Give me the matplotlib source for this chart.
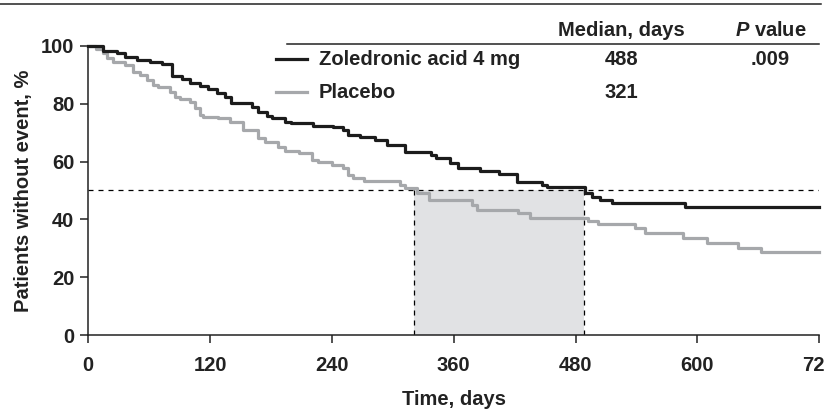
import numpy as np
import matplotlib
matplotlib.use("Agg")
import matplotlib.pyplot as plt
from matplotlib.lines import Line2D

# Kaplan-Meier step points (day of change, % without event after change)
zol_days = [0, 14, 28, 36, 48, 61, 73, 82, 92, 100, 110, 118, 127, 135, 141,
            161, 167, 176, 181, 194, 200, 221, 241, 251, 256, 268, 282, 294,
            312, 338, 342, 356, 364, 386, 405, 422, 447, 452, 489, 496, 504,
            516, 588, 720]
zol_pct = [100, 98.3, 97.4, 96.2, 95.0, 94.3, 93.6, 89.6, 88.4, 87.2, 86.0,
           85.0, 83.6, 82.4, 80.3, 79.0, 77.2, 75.7, 74.9, 73.8, 73.2, 72.3,
           72.0, 70.9, 69.2, 68.6, 67.6, 65.7, 63.4, 62.3, 61.1, 59.5, 57.7,
           56.8, 55.7, 53.0, 51.9, 51.1, 49.0, 47.9, 46.7, 45.6, 44.2, 44.2]

pla_days = [0, 8, 14, 18, 24, 36, 44, 51, 58, 64, 69, 80, 85, 90, 100, 105,
            110, 113, 128, 140, 152, 167, 174, 187, 194, 208, 220, 226, 240,
            251, 256, 261, 272, 307, 312, 324, 336, 378, 383, 423, 435, 492,
            502, 538, 548, 586, 609, 640, 663, 720]
pla_pct = [100, 98.7, 97.4, 95.6, 94.5, 93.3, 91.0, 89.9, 88.2, 86.4, 85.6,
           84.1, 82.4, 81.5, 80.7, 78.4, 76.1, 75.5, 74.9, 73.8, 70.9, 68.0,
           66.9, 65.1, 63.7, 62.8, 60.5, 59.9, 58.8, 57.7, 55.4, 54.2, 53.4,
           51.9, 50.8, 49.0, 46.7, 45.0, 43.3, 42.1, 40.6, 39.5, 38.4, 36.9,
           35.4, 33.5, 31.8, 30.0, 28.9, 28.9]

groups = ["Zoledronic acid 4 mg", "Placebo"]
medians = [488, 321]
p_values = [".009", ""]
x_ticks = [0, 120, 240, 360, 480, 600, 720]
y_ticks = [0, 20, 40, 60, 80, 100]

plt.rcParams["font.family"] = ["Liberation Sans", "DejaVu Sans"]
plt.rcParams["font.weight"] = "bold"
plt.rcParams["mathtext.fontset"] = "custom"
plt.rcParams["mathtext.bfit"] = "Liberation Sans:italic:bold"

BLACK = "#1c1c1c"
GRAY = "#a6a8ab"
SHADE = "#e1e2e4"
INK = "#222222"
FS = 14.5

fig = plt.figure(figsize=(8.25, 4.09), dpi=100)
ax = fig.add_axes([88.3 / 825, 73.7 / 409, 731 / 825, 289.6 / 409])

# shaded median window and reference lines
ax.axvspan(medians[1], medians[0], ymin=0, ymax=0.5, color=SHADE, lw=0, zorder=1)
ax.axhline(50, color="black", lw=0.9, ls=(0, (4, 4)), zorder=2)
for m in medians:
    ax.plot([m, m], [0, 50], color="black", lw=0.9, ls=(0, (4, 4)), zorder=2)

ax.step(pla_days, pla_pct, where="post", color=GRAY, lw=2.3, zorder=3,
        clip_on=False)
ax.step(zol_days, zol_pct, where="post", color=BLACK, lw=2.3, zorder=4,
        clip_on=False)

ax.set_xlim(0, 720)
ax.set_ylim(0, 100)
ax.set_xticks(x_ticks)
ax.set_yticks(y_ticks)
ax.tick_params(axis="both", length=6, width=1.1, labelsize=FS, color=INK,
               labelcolor=INK)
ax.tick_params(axis="x", pad=9)
ax.tick_params(axis="y", pad=4)
for s in ["top", "right"]:
    ax.spines[s].set_visible(False)
for s in ["left", "bottom"]:
    ax.spines[s].set_linewidth(1.1)
    ax.spines[s].set_color(INK)

ax.set_xlabel("Time, days", fontsize=FS, fontweight="bold", labelpad=11,
              color=INK)
ax.set_ylabel("Patients without event, %", fontsize=FS, fontweight="bold",
              labelpad=6, color=INK)

# legend table
col_med = 525
col_p = 672
hy = 105.4
ax.text(col_med, hy, "Median, days", ha="center", va="center",
        fontsize=FS, fontweight="bold", clip_on=False, color=INK)
ax.text(col_p, hy, r"$\mathbfit{P}$ value", ha="center", va="center",
        fontsize=FS, fontweight="bold", clip_on=False, color=INK)
ax.plot([196, 720], [100.6, 100.6], color=INK, lw=1.1, clip_on=False)

row_y = [95.4, 84.0]
colors = [BLACK, GRAY]
for g, m, p, y, c in zip(groups, medians, p_values, row_y, colors):
    ax.plot([185, 215], [y, y], color=c, lw=2.3, clip_on=False)
    ax.text(227, y, g, ha="left", va="center", fontsize=FS, fontweight="bold",
            color=INK)
    ax.text(col_med, y, str(m), ha="center", va="center", fontsize=FS,
            fontweight="bold", color=INK)
    if p:
        ax.text(col_p, y, p, ha="center", va="center", fontsize=FS,
                fontweight="bold", color=INK)

# top rule across the figure
fig.add_artist(Line2D([0, 821 / 825], [1 - 4 / 409, 1 - 4 / 409],
                      color=INK, lw=1.1))

fig.savefig("out.png", dpi=100)
